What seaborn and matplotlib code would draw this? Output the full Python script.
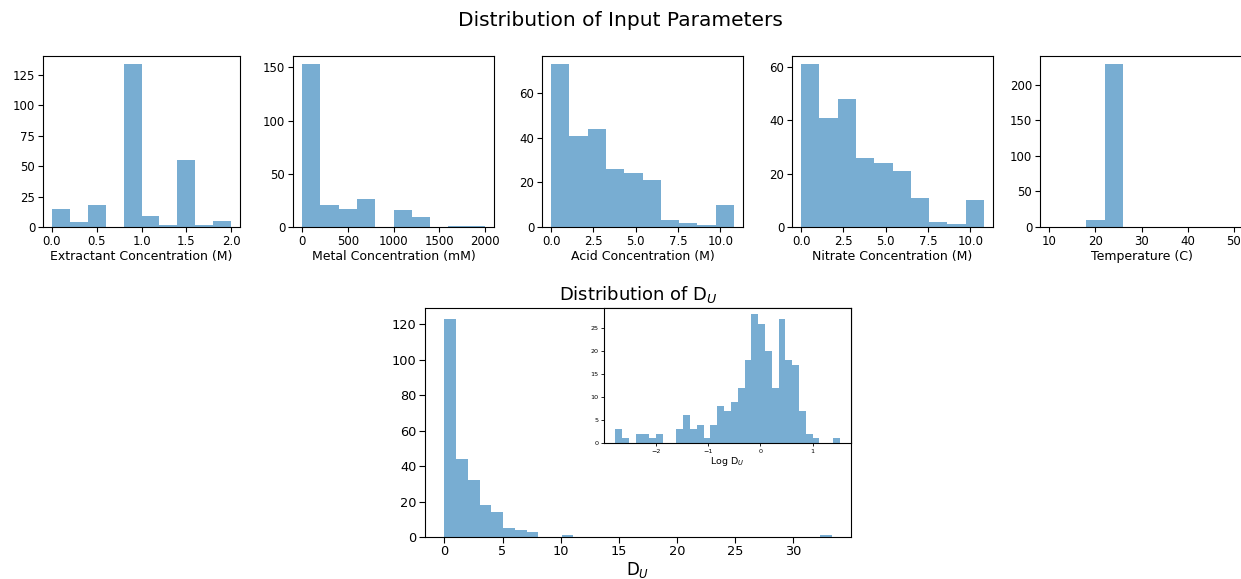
import numpy as np
import pandas as pd
import matplotlib
matplotlib.use("Agg")
import matplotlib.pyplot as plt
import seaborn as sns

# ---------------- data (histogram counts) ----------------
extractant_range = (0.0, 2.0)
extractant_counts = [15, 4, 18, 0, 134, 9, 2, 55, 2, 5]

metal_range = (0.0, 2000.0)
metal_counts = [153, 21, 17, 26, 0, 16, 9, 0, 1, 1]

acid_range = (0.0, 10.8)
acid_counts = [73, 41, 44, 26, 24, 21, 3, 2, 1, 10]

nitrate_range = (0.0, 10.8)
nitrate_counts = [61, 41, 48, 26, 24, 21, 11, 2, 1, 10]

temp_range = (10.0, 50.0)
temp_counts = [0, 0, 10, 229, 0, 0, 0, 0, 0, 0]

du_range = (0.0, 33.3)
du_counts = [123, 44, 32, 18, 14, 5, 4, 3, 0, 0, 1, 0, 0, 0, 0, 0, 0,
             0, 0, 0, 0, 0, 0, 0, 0, 0, 0, 0, 0, 0, 0, 0, 1]

logdu_range = (-2.78, 1.52)
logdu_counts = [3, 1, 0, 2, 2, 1, 2, 0, 0, 3, 6, 3, 4, 1, 4, 8, 7, 9, 12,
                18, 28, 26, 20, 12, 27, 18, 17, 7, 2, 1, 0, 0, 1]

top_labels = ["Extractant Concentration (M)", "Metal Concentration (mM)",
              "Acid Concentration (M)", "Nitrate Concentration (M)",
              "Temperature (C)"]
top_yticks = [[0, 25, 50, 75, 100, 125], [0, 50, 100, 150], [0, 20, 40, 60],
              [0, 20, 40, 60], [0, 50, 100, 150, 200]]

# ---------------- figure ----------------
W, H = 1241, 579
fig = plt.figure(figsize=(W / 100, H / 100), dpi=100)
fig.patch.set_facecolor("white")

BAR = "#1f77b4"
ALPHA = 0.6


def ax_px(l, t, r, b):
    return fig.add_axes([l / W, 1 - b / H, (r - l) / W, (b - t) / H])


def hist(ax, rng, counts):
    n = len(counts)
    edges = np.linspace(rng[0], rng[1], n + 1)
    centers = 0.5 * (edges[:-1] + edges[1:])
    df = pd.DataFrame({"x": centers, "w": np.asarray(counts, dtype=float)})
    sns.histplot(data=df, x="x", weights="w", bins=n, binrange=rng, ax=ax,
                 color=BAR, alpha=ALPHA, linewidth=0)
    ax.set_ylabel("")


top_data = [(extractant_range, extractant_counts),
            (metal_range, metal_counts),
            (acid_range, acid_counts),
            (nitrate_range, nitrate_counts),
            (temp_range, temp_counts)]
top_pos = [(43, 240), (293, 494), (542, 743), (792, 993), (1040, 1243)]

for (rng, counts), (l, r), lab, yt in zip(top_data, top_pos, top_labels, top_yticks):
    ax = ax_px(l, 56, r, 227)
    hist(ax, rng, counts)
    ax.set_yticks(yt)
    ax.set_xlabel(lab, fontsize=9, labelpad=2)
    ax.tick_params(labelsize=8.5, length=3.5, pad=2)

fig.text(620 / W, 1 - 20 / H, "Distribution of Input Parameters",
         ha="center", va="center", fontsize=14.5)

# main D_U histogram
axm = ax_px(425, 308, 851, 537)
hist(axm, du_range, du_counts)
axm.set_xlabel("D$_U$", fontsize=12, labelpad=1)
axm.set_title("Distribution of D$_U$", fontsize=13, pad=6)
axm.tick_params(labelsize=9.3, length=4, pad=2)
axm.set_xticks([0, 5, 10, 15, 20, 25, 30])

# inset log histogram
axi = ax_px(604, 308, 851, 443)
axi.set_facecolor("white")
hist(axi, logdu_range, logdu_counts)
axi.set_xlabel("Log D$_U$", fontsize=6.8, labelpad=1)
axi.tick_params(labelsize=4.6, length=2.5, pad=1.5, width=0.6)
axi.set_xticks([-2, -1, 0, 1])
axi.set_yticks([0, 5, 10, 15, 20, 25])

fig.savefig("out.png", dpi=100)
